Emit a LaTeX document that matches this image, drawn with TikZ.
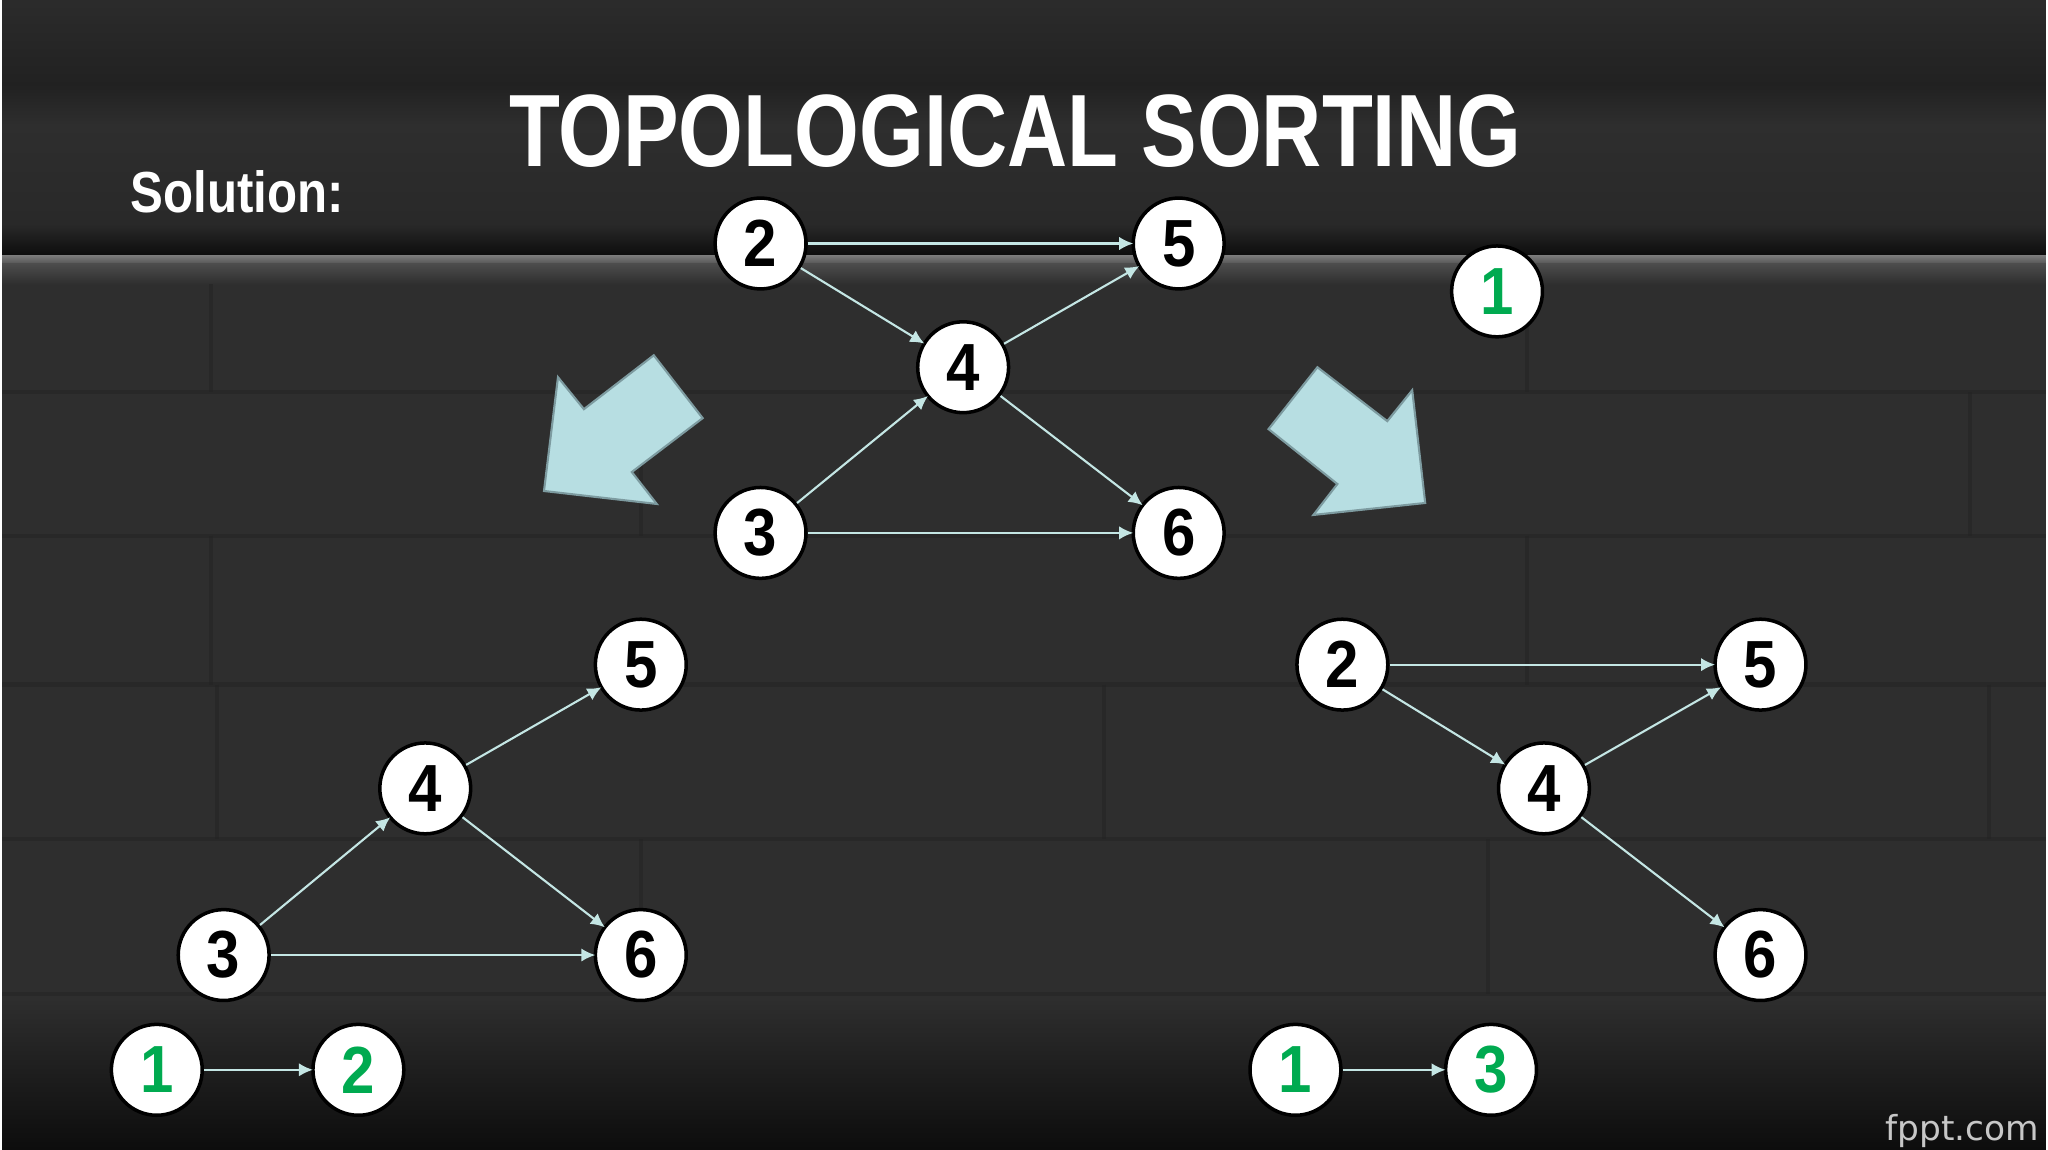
\documentclass[tikz,border=0pt]{standalone}
\usepackage{fontspec}
\setmainfont{Liberation Sans}
\newfontfamily\titlefont[FakeStretch=0.81]{Liberation Sans}
\newfontfamily\labelfont[FakeStretch=0.85]{Liberation Sans}
\newfontfamily\digitfont[FakeStretch=0.9]{Liberation Sans}
\newfontfamily\markfont{DejaVu Sans}
\usetikzlibrary{arrows.meta}
\definecolor{wallgray}{RGB}{46,46,46}
\definecolor{mortargray}{RGB}{36,36,36}
\definecolor{linkcyan}{RGB}{196,230,228}
\definecolor{arrowcyan}{RGB}{183,222,226}
\definecolor{arrowedge}{RGB}{125,155,160}
\definecolor{donegreen}{RGB}{0,170,80}
\tikzset{
  vertex/.style={circle,draw=black,line width=1pt,fill=white,minimum size=0.91cm,inner sep=0pt,
    font=\digitfont\bfseries\fontsize{19}{19}\selectfont},
  done/.style={vertex,text=donegreen},
  link/.style={draw=linkcyan,line width=0.6pt,-{Latex[length=4pt,width=3.8pt]},shorten >=-0.5pt},
  bigarrow/.style={fill=arrowcyan,draw=arrowedge,line width=0.6pt,line join=miter},
  mortar/.style={draw=mortargray,line width=1.2pt,opacity=0.6}
}
\begin{document}
\begin{tikzpicture}[x=0.01cm,y=-0.01cm]
    % wall
    \fill[wallgray] (0,0) rectangle (2048,1152);
    \shade[top color=black!83,bottom color=black!87] (0,0) rectangle (2048,85);
    \shade[top color=black!87,bottom color=black!82] (0,85) rectangle (2048,125);
    \shade[top color=black!82,bottom color=black!84] (0,125) rectangle (2048,225);
    \shade[top color=black!84,bottom color=black!95] (0,225) rectangle (2048,256);
    \shade[top color=black!52,bottom color=black!66] (0,256) rectangle (2048,264);
    \shade[top color=black!70,bottom color=wallgray] (0,264) rectangle (2048,285);
    % bricks
    \draw[mortar] (0,393) -- (2048,393);  \draw[mortar] (0,537) -- (2048,537);
    \draw[mortar] (0,686) -- (2048,686);  \draw[mortar] (0,841) -- (2048,841);
    \draw[mortar] (0,996) -- (2048,996);
    \draw[mortar] (209,285) -- (209,393); \draw[mortar] (1528,285) -- (1528,393);
    \draw[mortar] (640,393) -- (640,537); \draw[mortar] (1972,393) -- (1972,537);
    \draw[mortar] (209,537) -- (209,686); \draw[mortar] (1528,537) -- (1528,686);
    \draw[mortar] (215,686) -- (215,841); \draw[mortar] (1104,686) -- (1104,841); \draw[mortar] (1991,686) -- (1991,841);
    \draw[mortar] (640,841) -- (640,996); \draw[mortar] (1489,841) -- (1489,996);
    \shade[top color=wallgray,bottom color=black!95] (0,1000) rectangle (2048,1152);
    % texts
    \node[anchor=base,inner sep=0pt,text=white,font=\titlefont\bfseries\fontsize{29.3}{30}\selectfont] (title) at (1015,167) {TOPOLOGICAL SORTING};
    \node[anchor=base west,inner sep=0pt,text=white,font=\labelfont\bfseries\fontsize{16.5}{17}\selectfont] (solution) at (128,213) {Solution:};
    \node[anchor=base east,inner sep=0pt,text=black!22,font=\markfont\fontsize{9.8}{10}\selectfont] (site) at (2042,1143) {fppt.com};
    % big arrows
    \draw[bigarrow] (543,492) -- (557,378) -- (583,410) -- (653,356) -- (702,419) -- (631,473) -- (656,505) -- cycle;
    \draw[bigarrow] (1426,504) -- (1413,391) -- (1388,422) -- (1318,368) -- (1269,430) -- (1338,485) -- (1314,516) -- cycle;
    % start graph
    \node[vertex] (t2) at (760,244) {2};
    \node[vertex] (t5) at (1179,244) {5};
    \node[vertex] (t4) at (963,368) {4};
    \node[vertex] (t3) at (760,534) {3};
    \node[vertex] (t6) at (1179,534) {6};
    \node[done] (t1) at (1498,292) {1};
    \draw[link] (t2) -- (t5); \draw[link] (t2) -- (t4); \draw[link] (t4) -- (t5);
    \draw[link] (t3) -- (t4); \draw[link] (t3) -- (t6); \draw[link] (t4) -- (t6);
    % left: 2 removed
    \node[vertex] (l5) at (640,666) {5};
    \node[vertex] (l4) at (424,790) {4};
    \node[vertex] (l3) at (222,957) {3};
    \node[vertex] (l6) at (640,957) {6};
    \draw[link] (l4) -- (l5); \draw[link] (l3) -- (l4);
    \draw[link] (l3) -- (l6); \draw[link] (l4) -- (l6);
    \node[done] (la) at (155,1072) {1};
    \node[done] (lb) at (357,1072) {2};
    \draw[link] (la) -- (lb);
    % right: 3 removed
    \node[vertex] (r2) at (1343,666) {2};
    \node[vertex] (r5) at (1762,666) {5};
    \node[vertex] (r4) at (1545,790) {4};
    \node[vertex] (r6) at (1762,957) {6};
    \draw[link] (r2) -- (r5); \draw[link] (r2) -- (r4);
    \draw[link] (r4) -- (r5); \draw[link] (r4) -- (r6);
    \node[done] (ra) at (1296,1072) {1};
    \node[done] (rb) at (1492,1072) {3};
    \draw[link] (ra) -- (rb);
\end{tikzpicture}
\end{document}
